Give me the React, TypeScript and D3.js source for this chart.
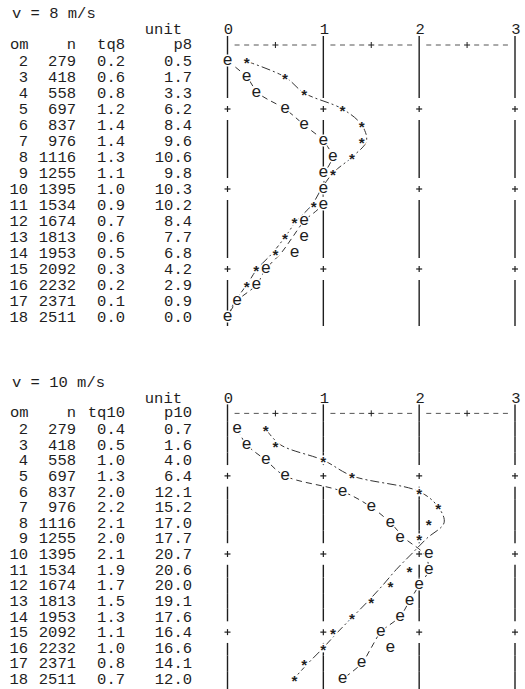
import React from 'react';
import * as d3 from 'd3';

// rows of the listing
const om = [2, 3, 4, 5, 6, 7, 8, 9, 10, 11, 12, 13, 14, 15, 16, 17, 18];
const n = [279, 418, 558, 697, 837, 976, 1116, 1255, 1395, 1534, 1674, 1813, 1953, 2092, 2232, 2371, 2511];

// v = 8 m/s
const tq8 = [0.2, 0.6, 0.8, 1.2, 1.4, 1.4, 1.3, 1.1, 1.0, 0.9, 0.7, 0.6, 0.5, 0.3, 0.2, 0.1, 0.0];
const p8 = [0.5, 1.7, 3.3, 6.2, 8.4, 9.6, 10.6, 9.8, 10.3, 10.2, 8.4, 7.7, 6.8, 4.2, 2.9, 0.9, 0.0];
const e8 = [0.0, 0.2, 0.3, 0.6, 0.8, 1.0, 1.1, 1.0, 1.0, 1.0, 0.8, 0.8, 0.7, 0.4, 0.3, 0.1, 0.0];
const fitTq8 = [0.19, 0.6, 0.8, 1.2, 1.4, 1.45, 1.3, 1.1, 0.98, 0.88, 0.72, 0.6, 0.47, 0.31, 0.2, 0.08, 0.0];
const fitE8 = [0.0, 0.2, 0.32, 0.6, 0.8, 1.0, 1.09, 1.02, 1.0, 0.98, 0.8, 0.68, 0.56, 0.4, 0.3, 0.1, 0.0];

// v = 10 m/s
const tq10 = [0.4, 0.5, 1.0, 1.3, 2.0, 2.2, 2.1, 2.0, 2.1, 1.9, 1.7, 1.5, 1.3, 1.1, 1.0, 0.8, 0.7];
const p10 = [0.7, 1.6, 4.0, 6.4, 12.1, 15.2, 17.0, 17.7, 20.7, 20.6, 20.0, 19.1, 17.6, 16.4, 16.6, 14.1, 12.0];
const e10 = [0.1, 0.2, 0.4, 0.6, 1.2, 1.5, 1.7, 1.8, 2.1, 2.1, 2.0, 1.9, 1.8, 1.6, 1.7, 1.4, 1.2];
const fitTq10 = [0.4, 0.55, 1.0, 1.3, 2.0, 2.2, 2.26, 2.08, 1.92, 1.76, 1.62, 1.47, 1.31, 1.15, 1.0, 0.84, 0.69];
const fitE10 = [0.1, 0.2, 0.4, 0.6, 1.2, 1.5, 1.7, 1.85, 2.05, 2.1, 2.0, 1.9, 1.8, 1.6, 1.5, 1.4, 1.2];

const axisTicks = [0, 1, 2, 3];
const plusRows = [5, 10, 15];

const FONT = '"Liberation Mono", "DejaVu Sans Mono", monospace';
const INK = '#1e1e1e';

type BlockProps = {
  title: string;
  tqLabel: string;
  pLabel: string;
  tq: number[];
  p: number[];
  e: number[];
  fitTq: number[];
  fitE: number[];
  yTop: number;
  yBottom: number;
  lastBottom: number;
};

const Block = ({ title, tqLabel, pLabel, tq, p, e, fitTq, fitE, yTop, yBottom, lastBottom }: BlockProps) => {
  const x = d3.scaleLinear().domain([0, 3]).range([227.5, 515]);
  const y = d3.scaleLinear().domain([2, 18]).range([yTop, yBottom]);
  const h = y(3) - y(2);

  const line = d3.line<number>()
    .x(d => x(d))
    .y((_, i) => y(om[i]))
    .curve(d3.curveCatmullRom.alpha(0.5));

  // vertical "|" segments, broken at the "+" rows
  const rows = d3.range(1, 19);
  const segs: { a: number; y1: number; y2: number }[] = [];
  const crosses: { a: number; r: number }[] = [];
  axisTicks.forEach(a => {
    rows.forEach(r => {
      if (plusRows.includes(r)) { crosses.push({ a, r }); return; }
      let y1 = r === 1 ? y(1) - 9 : y(r) - h / 2;
      let y2 = r === 18 ? lastBottom : y(r) + h / 2;
      if (plusRows.includes(r - 1)) y1 += 3;
      if (plusRows.includes(r + 1)) y2 -= 3;
      segs.push({ a, y1, y2 });
    });
  });

  const dashSteps = d3.range(1, 30).filter(j => j % 10 !== 0);
  const textStyle = { fontFamily: FONT, fontSize: 15.5, fill: INK };

  return (
    <g>
      <text x={12} y={y(-1) + 5} style={textStyle}>{title}</text>
      <text x={182} y={y(0) + 5} textAnchor="end" style={textStyle}>unit</text>
      {axisTicks.map(a => (
        <text key={a} x={x(a) + 1} y={y(0) + 5} textAnchor="middle" style={textStyle}>{a}</text>
      ))}
      <text x={10} y={y(1) + 4} style={textStyle}>om</text>
      <text x={76} y={y(1) + 4} textAnchor="end" style={textStyle}>n</text>
      <text x={125} y={y(1) + 4} textAnchor="end" style={textStyle}>{tqLabel}</text>
      <text x={192} y={y(1) + 4} textAnchor="end" style={textStyle}>{pLabel}</text>

      {om.map((o, i) => (
        <g key={o} style={textStyle}>
          <text x={28} y={y(o) + 5} textAnchor="end">{o}</text>
          <text x={76} y={y(o) + 5} textAnchor="end">{n[i]}</text>
          <text x={125} y={y(o) + 5} textAnchor="end">{tq[i].toFixed(1)}</text>
          <text x={192} y={y(o) + 5} textAnchor="end">{p[i].toFixed(1)}</text>
        </g>
      ))}

      {/* header dashes */}
      {dashSteps.map(j => j % 5 === 0 ? (
        <g key={j} stroke={INK} strokeWidth={1}>
          <line x1={x(j / 10) - 3} x2={x(j / 10) + 3} y1={y(1)} y2={y(1)} />
          <line x1={x(j / 10)} x2={x(j / 10)} y1={y(1) - 3} y2={y(1) + 3} />
        </g>
      ) : (
        <line key={j} x1={x(j / 10) - 2.5} x2={x(j / 10) + 2.5} y1={y(1)} y2={y(1)}
          stroke="#555" strokeWidth={1} />
      ))}

      {segs.map((s, i) => (
        <line key={'s' + i} x1={x(s.a)} x2={x(s.a)} y1={s.y1} y2={s.y2} stroke={INK} strokeWidth={1.4} />
      ))}
      {crosses.map((c, i) => (
        <g key={'c' + i} stroke={INK} strokeWidth={1.2}>
          <line x1={x(c.a) - 3} x2={x(c.a) + 3} y1={y(c.r)} y2={y(c.r)} />
          <line x1={x(c.a)} x2={x(c.a)} y1={y(c.r) - 3} y2={y(c.r) + 3} />
        </g>
      ))}

      <path d={line(fitTq) || ''} fill="none" stroke="#333" strokeWidth={1} strokeDasharray="9,3,2,3" />
      <path d={line(fitE) || ''} fill="none" stroke="#333" strokeWidth={1} strokeDasharray="6,4" />

      {om.map((o, i) => Math.round(tq[i] * 10) === Math.round(e[i] * 10) ? null : (
        <text key={'t' + o} x={x(tq[i])} y={y(o) + 8} textAnchor="middle"
          style={{ ...textStyle, fontSize: 15, fontWeight: 'bold', stroke: '#fff', strokeWidth: 3, paintOrder: 'stroke' }}>*</text>
      ))}
      {om.map((o, i) => (
        <text key={'e' + o} x={x(e[i])} y={y(o) + 4} textAnchor="middle"
          style={{ ...textStyle, fontSize: 17, stroke: '#fff', strokeWidth: 3, paintOrder: 'stroke' }}>e</text>
      ))}
    </g>
  );
};

export default function App() {
  return (
    <svg width={525} height={689} style={{ position: 'absolute', left: 0, top: 0, background: '#fff' }}>
      <rect width={525} height={689} fill="#fff" />
      <Block title="v = 8 m/s" tqLabel="tq8" pLabel="p8" tq={tq8} p={p8} e={e8}
        fitTq={fitTq8} fitE={fitE8} yTop={61} yBottom={317} lastBottom={326} />
      <Block title="v = 10 m/s" tqLabel="tq10" pLabel="p10" tq={tq10} p={p10} e={e10}
        fitTq={fitTq10} fitE={fitE10} yTop={429} yBottom={679} lastBottom={689} />
    </svg>
  );
}
